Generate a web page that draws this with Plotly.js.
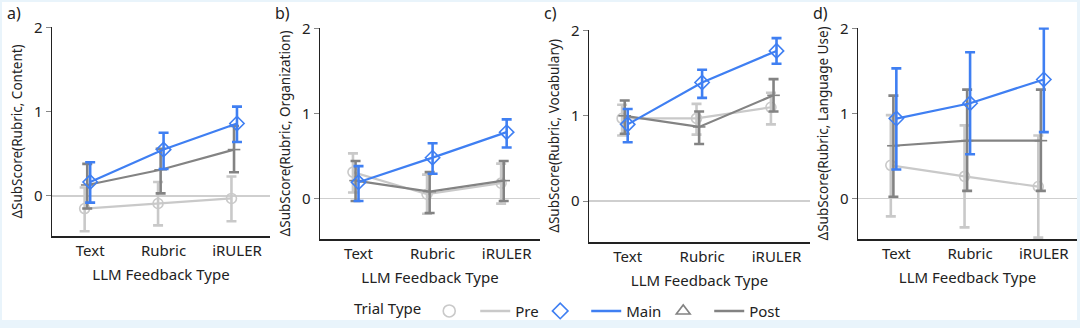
<!DOCTYPE html>
<html>
<head>
<meta charset="utf-8">
<script src="https://cdn.plot.ly/plotly-3.0.1.min.js"></script>
<style>
  html, body { margin: 0; padding: 0; background: #ffffff; }
  #chart { width: 1080px; height: 328px; }
</style>
</head>
<body>
<div id="chart"></div>
<script>
// categories
var cats = ['Text', 'Rubric', 'iRULER'];
var panelTags = ['a)', 'b)', 'c)', 'd)'];
var yTitles = [
  'ΔSubScore(Rubric, Content)',
  'ΔSubScore(Rubric, Organization)',
  'ΔSubScore(Rubric, Vocabulary)',
  'ΔSubScore(Rubric, Language Use)'
];

// a) Content : mean, upper CI, lower CI
var contentPre = [-0.15, -0.09, -0.03];
var contentPreHi = [0.10, 0.165, 0.23];
var contentPreLo = [-0.42, -0.35, -0.30];
var contentMain = [0.165, 0.55, 0.86];
var contentMainHi = [0.40, 0.75, 1.06];
var contentMainLo = [-0.08, 0.32, 0.64];
var contentPost = [0.13, 0.31, 0.55];
var contentPostHi = [0.38, 0.56, 0.83];
var contentPostLo = [-0.15, 0.03, 0.28];

// b) Organization
var orgPre = [0.31, 0.05, 0.18];
var orgPreHi = [0.53, 0.28, 0.41];
var orgPreLo = [0.07, -0.18, -0.06];
var orgMain = [0.19, 0.48, 0.78];
var orgMainHi = [0.38, 0.65, 0.93];
var orgMainLo = [-0.03, 0.29, 0.60];
var orgPost = [0.21, 0.08, 0.21];
var orgPostHi = [0.44, 0.31, 0.44];
var orgPostLo = [-0.03, -0.17, -0.03];

// c) Vocabulary
var vocPre = [0.97, 0.97, 1.10];
var vocPreHi = [1.13, 1.14, 1.27];
var vocPreLo = [0.77, 0.78, 0.90];
var vocMain = [0.90, 1.39, 1.76];
var vocMainHi = [1.08, 1.54, 1.91];
var vocMainLo = [0.69, 1.21, 1.61];
var vocPost = [1.00, 0.87, 1.24];
var vocPostHi = [1.18, 1.05, 1.43];
var vocPostLo = [0.79, 0.67, 1.05];

// d) Language Use
var langPre = [0.39, 0.26, 0.14];
var langPreHi = [0.98, 0.86, 0.74];
var langPreLo = [-0.21, -0.34, -0.46];
var langMain = [0.94, 1.12, 1.40];
var langMainHi = [1.53, 1.72, 2.00];
var langMainLo = [0.34, 0.52, 0.78];
var langPost = [0.62, 0.68, 0.68];
var langPostHi = [1.21, 1.28, 1.28];
var langPostLo = [0.02, 0.09, 0.09];

var panels = [
  { pre: [contentPre, contentPreHi, contentPreLo], main: [contentMain, contentMainHi, contentMainLo], post: [contentPost, contentPostHi, contentPostLo] },
  { pre: [orgPre, orgPreHi, orgPreLo], main: [orgMain, orgMainHi, orgMainLo], post: [orgPost, orgPostHi, orgPostLo] },
  { pre: [vocPre, vocPreHi, vocPreLo], main: [vocMain, vocMainHi, vocMainLo], post: [vocPost, vocPostHi, vocPostLo] },
  { pre: [langPre, langPreHi, langPreLo], main: [langMain, langMainHi, langMainLo], post: [langPost, langPostHi, langPostLo] }
];

// styles
var W = 1080, H = 328;
var styles = {
  pre:  { name: 'Pre',  color: '#c9c9c9', symbol: 'circle-open', size: 10, dodge: -0.075, legSymbol: 'circle-open', legW: 20 },
  post: { name: 'Post', color: '#838383', symbol: 'line-ew-open', size: 9, dodge: -0.04, legSymbol: 'triangle-up-open', legW: 0 },
  main: { name: 'Main', color: '#3f7ff2', symbol: 'diamond-open', size: 11, dodge: 0.0, legSymbol: 'diamond-open', legW: 32 }
};
var order = ['pre', 'post', 'main'];
// pixel boxes of each plot area [left, right, top, bottom]
var boxes = [[52, 270, 27, 240], [320, 540, 28, 243], [589, 810, 30, 246], [858, 1077, 28, 243]];

function makeTrace(vals, st, n) {
  var mean = vals[0], hi = vals[1], lo = vals[2];
  var xs = [], up = [], dn = [];
  for (var i = 0; i < mean.length; i++) {
    xs.push(i + st.dodge);
    up.push(hi[i] - mean[i]);
    dn.push(mean[i] - lo[i]);
  }
  var sfx = n === 0 ? '' : String(n + 1);
  return {
    x: xs, y: mean, type: 'scatter', mode: 'lines+markers',
    xaxis: 'x' + sfx, yaxis: 'y' + sfx,
    line: { color: st.color, width: 2.2 },
    marker: { symbol: st.symbol, size: st.size, color: st.color, line: { color: st.color, width: 1.6 } },
    error_y: { type: 'data', symmetric: false, array: up, arrayminus: dn, color: st.color, thickness: 2.6, width: 5 },
    showlegend: false, cliponaxis: false, hoverinfo: 'skip'
  };
}

var data = [];
var layout = {
  width: W, height: H,
  margin: { l: 0, r: 0, t: 0, b: 0 },
  paper_bgcolor: '#e9f4fb',
  plot_bgcolor: 'rgba(0,0,0,0)',
  font: { family: '"Noto Sans", "Open Sans", sans-serif', size: 14, color: '#222' },
  showlegend: true,
  legend: {
    orientation: 'h', x: 352 / W, xanchor: 'left', y: 1 - 316 / H, yanchor: 'middle',
    title: { text: 'Trial Type', side: 'left', font: { size: 15 } },
    font: { size: 15, color: '#222' }, itemwidth: 30, bgcolor: 'rgba(0,0,0,0)'
  },
  shapes: [{
    type: 'rect', xref: 'paper', yref: 'paper', layer: 'below',
    x0: 2 / W, x1: 1077 / W, y0: 3 / H, y1: 1 - 2 / H,
    fillcolor: '#ffffff', line: { width: 0 }
  }],
  annotations: []
};

for (var p = 0; p < panels.length; p++) {
  order.forEach(function (k) { data.push(makeTrace(panels[p][k], styles[k], p)); });
  var b = boxes[p];
  var sfx = p === 0 ? '' : String(p + 1);
  layout['xaxis' + sfx] = {
    domain: [b[0] / W, b[1] / W], anchor: 'y' + sfx,
    range: [-0.52, 2.45], tickvals: [0, 1, 2], ticktext: cats,
    showline: true, linecolor: '#222', linewidth: 1.5,
    showgrid: false, zeroline: false, ticks: '',
    tickfont: { size: 15, color: '#222' },
    title: { text: 'LLM Feedback Type', font: { size: 15, color: '#222' }, standoff: 10 },
    fixedrange: true
  };
  layout['yaxis' + sfx] = {
    domain: [1 - b[3] / H, 1 - b[2] / H], anchor: 'x' + sfx,
    range: [-0.48, 2.01], tickvals: [0, 1, 2],
    showline: true, linecolor: '#222', linewidth: 1.5,
    showgrid: false, zeroline: true, zerolinecolor: '#cfcfcf', zerolinewidth: 1.5,
    ticks: 'outside', ticklen: 5, tickcolor: '#888', tickwidth: 1,
    tickfont: { size: 15, color: '#222' },
    title: { text: yTitles[p], font: { size: 13.5, color: '#222' }, standoff: 8 },
    fixedrange: true
  };
  layout.annotations.push({
    text: panelTags[p], xref: 'paper', yref: 'paper',
    x: (b[0] - 47) / W, y: 1 - 13 / H, xanchor: 'left', yanchor: 'middle',
    showarrow: false, font: { size: 16, color: '#222' }
  });
}

// legend-only entries: marker first, then the line with the name
['pre', 'main', 'post'].forEach(function (k) {
  var st = styles[k];
  data.push({ x: [null], y: [null], type: 'scatter', mode: 'markers', name: '', legendwidth: 1,
    marker: { symbol: st.legSymbol, size: 12, color: st.color, line: { color: st.color, width: 1.6 } } });
  var lineItem = { x: [null], y: [null], type: 'scatter', mode: 'lines', name: st.name,
    line: { color: st.color, width: 2.5 } };
  if (st.legW) lineItem.legendwidth = st.legW;
  data.push(lineItem);
});

Plotly.newPlot('chart', data, layout, { displaylogo: false, staticPlot: true });
</script>
</body>
</html>
